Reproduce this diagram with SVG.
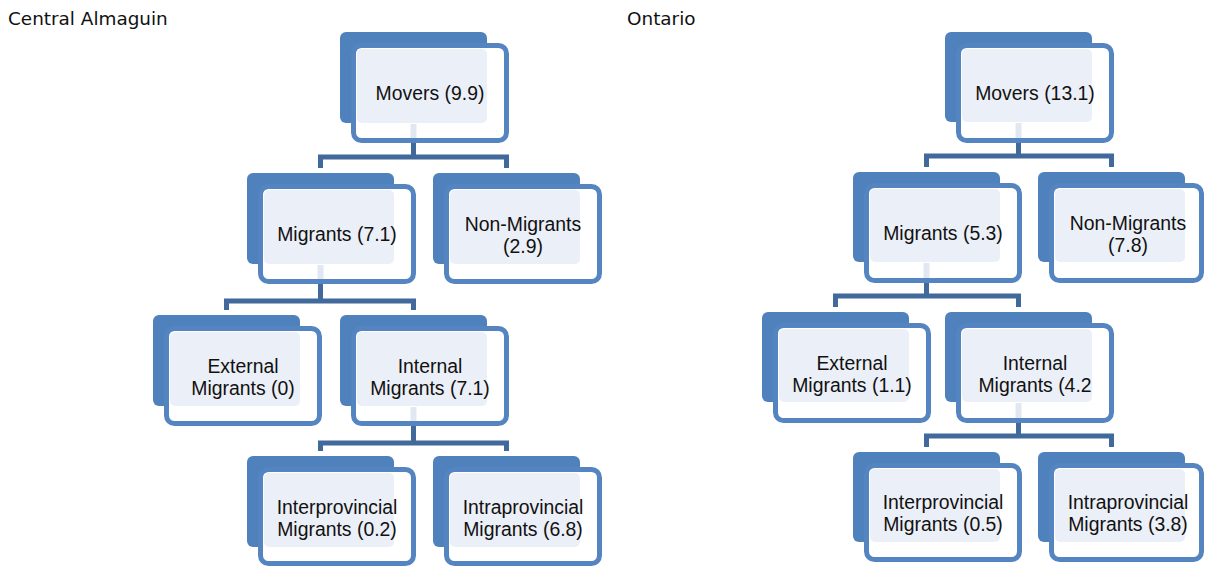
<svg xmlns="http://www.w3.org/2000/svg" width="1205" height="567" viewBox="0 0 1205 567">
<defs>
<style>
.bg{fill:#ffffff}
.back{fill:#4F81BD}
.frame{fill:#ffffff;stroke:#5585C1;stroke-width:5}
.inner{fill:#EBEFF7}
.stub{fill:#E2E8F1}
.conn{fill:none;stroke:#41699C;stroke-width:5;stroke-linejoin:miter;stroke-linecap:butt}
.lbl{font-family:"Liberation Sans","Open Sans",sans-serif;font-size:19.4px;fill:#111111;text-anchor:middle}
.title{font-family:"DejaVu Sans","Liberation Sans",sans-serif;font-size:18.4px;fill:#111111}
</style>
</defs>
<rect class="bg" x="0" y="0" width="1205" height="567"/>
<text class="title" x="8" y="25">Central Almaguin</text>
<text class="title" x="627" y="25">Ontario</text>

<g id="connectors">
<path class="conn" d="M413.5,141 V157 M320.5,168 V157 H506.5 V168"/>
<path class="conn" d="M320.5,283 V301 M226.5,310 V301 H413.5 V310"/>
<path class="conn" d="M413.5,425 V443 M320.5,451 V443 H506.5 V451"/>
<path class="conn" d="M1018.5,141 V156 M926.5,167 V156 H1111.5 V167"/>
<path class="conn" d="M926.5,281 V296 M835.5,307 V296 H1018.5 V307"/>
<path class="conn" d="M1018.5,421 V436 M926.5,447 V436 H1111.5 V447"/>
</g>

<g id="l-movers">
<rect class="back" x="340" y="32" width="147" height="91" rx="6"/>
<rect class="frame" x="353.5" y="45.5" width="153" height="95" rx="8"/>
<rect class="inner" x="357" y="49" width="130" height="74" rx="5"/>
<rect class="stub" x="410.5" y="124" width="6" height="14"/>
<text class="lbl" x="430" y="100">Movers (9.9)</text>
</g>
<g id="l-migrants">
<rect class="back" x="247" y="173" width="147" height="91" rx="6"/>
<rect class="frame" x="260.5" y="186.5" width="153" height="95" rx="8"/>
<rect class="inner" x="264" y="190" width="130" height="74" rx="5"/>
<rect class="stub" x="317.5" y="265" width="6" height="14"/>
<text class="lbl" x="337" y="241">Migrants (7.1)</text>
</g>
<g id="l-nonmigrants">
<rect class="back" x="433" y="173" width="147" height="91" rx="6"/>
<rect class="frame" x="446.5" y="186.5" width="153" height="95" rx="8"/>
<rect class="inner" x="450" y="190" width="130" height="74" rx="5"/>
<text class="lbl" x="523" y="230.5">Non-Migrants<tspan x="523" dy="22.5">(2.9)</tspan></text>
</g>
<g id="l-external">
<rect class="back" x="153" y="315" width="147" height="91" rx="6"/>
<rect class="frame" x="166.5" y="328.5" width="153" height="95" rx="8"/>
<rect class="inner" x="170" y="332" width="130" height="74" rx="5"/>
<text class="lbl" x="243" y="372.5">External<tspan x="243" dy="22.5">Migrants (0)</tspan></text>
</g>
<g id="l-internal">
<rect class="back" x="340" y="315" width="147" height="91" rx="6"/>
<rect class="frame" x="353.5" y="328.5" width="153" height="95" rx="8"/>
<rect class="inner" x="357" y="332" width="130" height="74" rx="5"/>
<rect class="stub" x="410.5" y="407" width="6" height="14"/>
<text class="lbl" x="430" y="372.5">Internal<tspan x="430" dy="22.5">Migrants (7.1)</tspan></text>
</g>
<g id="l-interprovincial">
<rect class="back" x="247" y="456" width="147" height="91" rx="6"/>
<rect class="frame" x="260.5" y="469.5" width="153" height="94" rx="8"/>
<rect class="inner" x="264" y="473" width="130" height="74" rx="5"/>
<text class="lbl" x="337" y="513.5">Interprovincial<tspan x="337" dy="22.5">Migrants (0.2)</tspan></text>
</g>
<g id="l-intraprovincial">
<rect class="back" x="433" y="456" width="147" height="91" rx="6"/>
<rect class="frame" x="446.5" y="469.5" width="153" height="94" rx="8"/>
<rect class="inner" x="450" y="473" width="130" height="74" rx="5"/>
<text class="lbl" x="523" y="513.5">Intraprovincial<tspan x="523" dy="22.5">Migrants (6.8)</tspan></text>
</g>

<g id="r-movers">
<rect class="back" x="945" y="32" width="147" height="90" rx="6"/>
<rect class="frame" x="958.5" y="45.5" width="153" height="95" rx="8"/>
<rect class="inner" x="962" y="49" width="130" height="73" rx="5"/>
<rect class="stub" x="1015.5" y="123" width="6" height="15"/>
<text class="lbl" x="1035" y="100">Movers (13.1)</text>
</g>
<g id="r-migrants">
<rect class="back" x="853" y="172" width="147" height="90" rx="6"/>
<rect class="frame" x="866.5" y="185.5" width="153" height="95" rx="8"/>
<rect class="inner" x="870" y="189" width="130" height="73" rx="5"/>
<rect class="stub" x="923.5" y="263" width="6" height="15"/>
<text class="lbl" x="943" y="240">Migrants (5.3)</text>
</g>
<g id="r-nonmigrants">
<rect class="back" x="1038" y="172" width="147" height="90" rx="6"/>
<rect class="frame" x="1051.5" y="185.5" width="150" height="95" rx="8"/>
<rect class="inner" x="1055" y="189" width="130" height="73" rx="5"/>
<text class="lbl" x="1128" y="229.5">Non-Migrants<tspan x="1128" dy="22.5">(7.8)</tspan></text>
</g>
<g id="r-external">
<rect class="back" x="762" y="312" width="147" height="90" rx="6"/>
<rect class="frame" x="775.5" y="325.5" width="153" height="95" rx="8"/>
<rect class="inner" x="779" y="329" width="130" height="73" rx="5"/>
<text class="lbl" x="852" y="369.5">External<tspan x="852" dy="22.5">Migrants (1.1)</tspan></text>
</g>
<g id="r-internal">
<rect class="back" x="945" y="312" width="147" height="90" rx="6"/>
<rect class="frame" x="958.5" y="325.5" width="153" height="95" rx="8"/>
<rect class="inner" x="962" y="329" width="130" height="73" rx="5"/>
<rect class="stub" x="1015.5" y="403" width="6" height="15"/>
<text class="lbl" x="1035" y="369.5">Internal<tspan x="1035" dy="22.5">Migrants (4.2</tspan></text>
</g>
<g id="r-interprovincial">
<rect class="back" x="853" y="452" width="147" height="90" rx="6"/>
<rect class="frame" x="866.5" y="465.5" width="153" height="94" rx="8"/>
<rect class="inner" x="870" y="469" width="130" height="73" rx="5"/>
<text class="lbl" x="943" y="508.5">Interprovincial<tspan x="943" dy="22.5">Migrants (0.5)</tspan></text>
</g>
<g id="r-intraprovincial">
<rect class="back" x="1038" y="452" width="147" height="90" rx="6"/>
<rect class="frame" x="1051.5" y="465.5" width="150" height="94" rx="8"/>
<rect class="inner" x="1055" y="469" width="130" height="73" rx="5"/>
<text class="lbl" x="1128" y="508.5">Intraprovincial<tspan x="1128" dy="22.5">Migrants (3.8)</tspan></text>
</g>
</svg>
